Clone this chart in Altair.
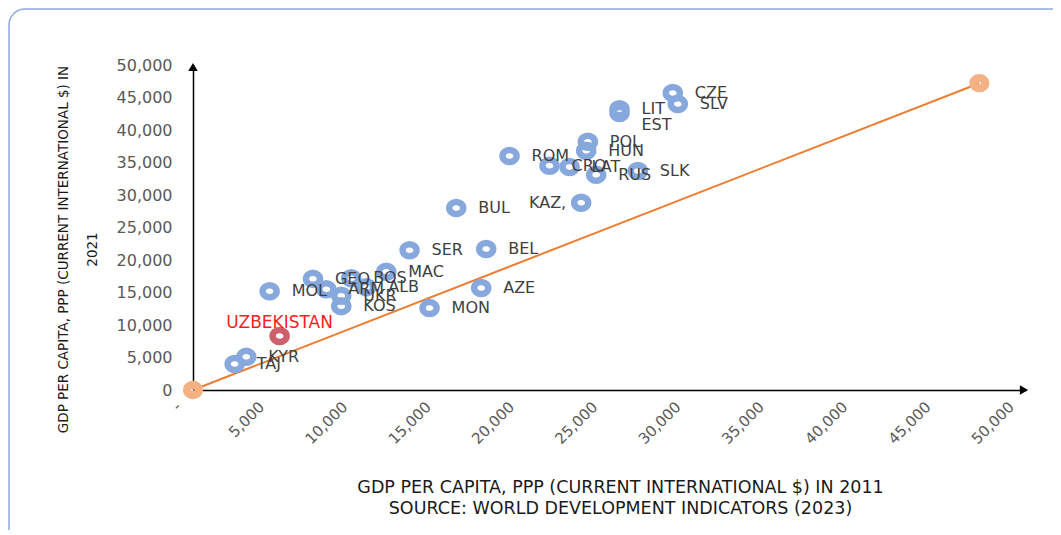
import altair as alt
import pandas as pd

# ---- data ----
countries = ["CZE", "SLV", "LIT", "EST", "POL", "HUN", "ROM", "CRO", "LAT", "RUS",
             "SLK", "KAZ,", "BUL", "SER", "BEL", "MAC", "BOS", "GEO", "ALB", "ARM",
             "MOL", "UKR", "KOS", "AZE", "MON", "UZBEKISTAN", "KYR", "TAJ"]
gdp_2011 = [28800, 29100, 25600, 25600, 23700, 23600, 19000, 21400, 22600, 24200,
            26700, 23300, 15800, 13000, 17600, 11600, 9500, 7200, 10400, 8000,
            4600, 8900, 8900, 17300, 14200, 5200, 3200, 2500]
gdp_2021 = [45700, 44000, 43200, 42600, 38200, 36800, 36000, 34500, 34300, 33100,
            33700, 28800, 28000, 21500, 21700, 18200, 17200, 17100, 15800, 15500,
            15200, 14500, 12900, 15700, 12600, 8300, 5100, 4000]
trend_x = [0, 47200]
trend_y = [0, 47200]
tick_values = [0, 5000, 10000, 15000, 20000, 25000, 30000, 35000, 40000, 45000, 50000]
axis_max = 50000

highlight = "UZBEKISTAN"
left_labels = ["KAZ,"]
below_labels = ["EST"]

x_title = ["GDP PER CAPITA, PPP (CURRENT INTERNATIONAL $) IN 2011",
           "SOURCE: WORLD DEVELOPMENT INDICATORS (2023)"]
y_title = ["GDP PER CAPITA, PPP (CURRENT INTERNATIONAL $) IN", "2021"]

FONT = "DejaVu Sans"
BLUE = "#87A8DD"
ORANGE = "#ED7D31"
LIGHT_ORANGE = "#F4B183"
RED_RING = "#CF5F6B"
RING = "M-1,0 A1,0.86 0 1,0 1,0 A1,0.86 0 1,0 -1,0 Z"

df = pd.DataFrame({"country": countries, "x": gdp_2011, "y": gdp_2021})
trend = pd.DataFrame({"x": trend_x, "y": trend_y})

xs = alt.Scale(domain=[0, axis_max], nice=False, zero=True)
ys = alt.Scale(domain=[0, axis_max], nice=False, zero=True)

X = alt.X("x:Q", scale=xs, axis=alt.Axis(
    values=tick_values, format=",d",
    labelExpr="datum.value == 0 ? '-' : datum.label",
    labelAngle=-45, labelFontSize=15, labelColor="#595959", labelFont=FONT,
    labelPadding=9, labelOffset=-20, labelOverlap=False, ticks=False, grid=False,
    domainColor="black", domainWidth=1.5,
    title=x_title, titleFont=FONT, titleFontSize=17.5, titleFontWeight="normal",
    titleColor="#1a1a1a", titleLineHeight=21, titleX=427, titleY=88,
    titleAlign="center", titleBaseline="top", titleAnchor="middle"))
Y = alt.Y("y:Q", scale=ys, axis=alt.Axis(
    values=tick_values, format=",d",
    labelFontSize=16, labelColor="#595959", labelFont=FONT,
    labelPadding=21, labelOverlap=False, ticks=False, grid=False,
    domainColor="black", domainWidth=1.5,
    title=y_title, titleFont=FONT, titleFontSize=13.5, titleFontWeight="normal",
    titleColor="#1a1a1a", titleLineHeight=29, titleX=-130, titleY=184,
    titleAngle=-90, titleAlign="center", titleBaseline="middle", titleAnchor="middle"))

frame = alt.Chart(pd.DataFrame({"a": [0]})).mark_rect(
    fillOpacity=0, stroke="#8EAADB", strokeWidth=1.5, cornerRadius=16
).encode(x=alt.value(-184), x2=alt.value(900), y=alt.value(-56), y2=alt.value(500))

line = alt.Chart(trend).mark_line(color=ORANGE, strokeWidth=2).encode(x=X, y=Y)
ends = alt.Chart(trend).mark_point(
    shape=RING, size=144, filled=False, stroke=LIGHT_ORANGE, strokeWidth=8, opacity=1
).encode(x=X, y=Y)

pts = alt.Chart(df[df.country != highlight]).mark_point(
    shape=RING, size=196, filled=False, stroke=BLUE, strokeWidth=6.5, opacity=1
).encode(x=X, y=Y)
hi_pt = alt.Chart(df[df.country == highlight]).mark_point(
    shape=RING, size=196, filled=False, stroke=RED_RING, strokeWidth=6.5, opacity=1
).encode(x=X, y=Y)

normal = df[~df.country.isin([highlight] + left_labels + below_labels)]
lbl = alt.Chart(normal).mark_text(
    align="left", baseline="middle", dx=22, font=FONT, fontSize=16, color="#404040"
).encode(x=X, y=Y, text="country:N")
lbl_left = alt.Chart(df[df.country.isin(left_labels)]).mark_text(
    align="right", baseline="middle", dx=-15, font=FONT, fontSize=16, color="#404040"
).encode(x=X, y=Y, text="country:N")
lbl_below = alt.Chart(df[df.country.isin(below_labels)]).mark_text(
    align="left", baseline="middle", dx=22, dy=12, font=FONT, fontSize=16, color="#404040"
).encode(x=X, y=Y, text="country:N")
lbl_hi = alt.Chart(df[df.country == highlight]).mark_text(
    align="center", baseline="middle", dy=-13, font=FONT, fontSize=17, color="#FF1A24"
).encode(x=X, y=Y, text="country:N")

arrows = pd.DataFrame({"x": [0, axis_max], "y": [axis_max, 0]})
arrow_up = alt.Chart(arrows.iloc[[0]]).mark_point(
    shape="triangle-up", size=90, filled=True, color="black", opacity=1, yOffset=2
).encode(x=X, y=Y)
arrow_right = alt.Chart(arrows.iloc[[1]]).mark_point(
    shape="triangle-right", size=90, filled=True, color="black", opacity=1, xOffset=-2
).encode(x=X, y=Y)

chart = alt.layer(
    frame, line, arrow_up, arrow_right, pts, hi_pt, ends,
    lbl, lbl_left, lbl_below, lbl_hi
).properties(
    width=833, height=325,
    padding={"left": 185, "top": 57, "right": 27, "bottom": 140},
    autosize=alt.AutoSizeParams(type="none"),
).configure_view(stroke=None)

chart.save("out.html", embed_options={"renderer": "svg", "actions": False})
